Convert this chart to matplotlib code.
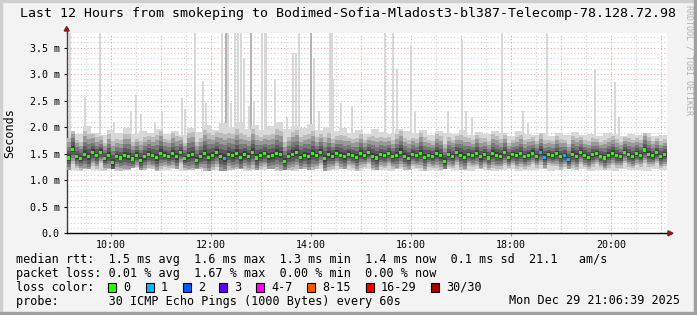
import numpy as np
import matplotlib
matplotlib.use('Agg')
import matplotlib.pyplot as plt
from matplotlib.patches import Rectangle, Polygon

plt.rcParams['font.family'] = 'DejaVu Sans Mono'

# ==============================
# data
# ==============================
start_clock = 9 * 60 + 6.65          # left edge of the graph, minutes after midnight (09:06:39)
span_min = 720                        # last 12 hours
step_min = 4.8                        # one median sample every 4.8 min

# median rtt, ms
median_ms = [
    1.42, 1.58, 1.45, 1.41, 1.49, 1.44, 1.52, 1.46, 1.53, 1.41,
    1.47, 1.33, 1.44, 1.42, 1.46, 1.45, 1.40, 1.47, 1.38, 1.44,
    1.49, 1.46, 1.43, 1.51, 1.47, 1.45, 1.50, 1.44, 1.52, 1.41,
    1.46, 1.48, 1.38, 1.45, 1.50, 1.43, 1.47, 1.52, 1.44, 1.41,
    1.49, 1.46, 1.51, 1.43, 1.48, 1.45, 1.53, 1.42, 1.47, 1.50,
    1.44, 1.46, 1.51, 1.48, 1.35, 1.45, 1.49, 1.52, 1.43, 1.47,
    1.44, 1.50, 1.46, 1.53, 1.41, 1.48, 1.45, 1.51, 1.47, 1.44,
    1.49, 1.46, 1.43, 1.50, 1.47, 1.52, 1.45, 1.42, 1.48, 1.46,
    1.50, 1.44, 1.47, 1.53, 1.45, 1.41, 1.49, 1.46, 1.51, 1.43,
    1.47, 1.44, 1.50, 1.46, 1.36, 1.48, 1.45, 1.52, 1.47, 1.43,
    1.49, 1.46, 1.51, 1.44, 1.48, 1.42, 1.50, 1.47, 1.45, 1.52,
    1.43, 1.48, 1.46, 1.50, 1.44, 1.47, 1.51, 1.45, 1.53, 1.43,
    1.48, 1.46, 1.50, 1.44, 1.47, 1.39, 1.49, 1.45, 1.52, 1.46,
    1.43, 1.48, 1.50, 1.45, 1.42, 1.47, 1.51, 1.46, 1.44, 1.53,
    1.48, 1.45, 1.50, 1.47, 1.57, 1.49, 1.46, 1.52, 1.44, 1.48,
]
# samples with 1/30 lost pings (drawn blue)
lossy_points = [39, 118, 119, 124, 125]

# smoke envelope, one value per 9.6 min
smoke_top = [
    1.92, 1.88, 2.02, 1.90, 1.86, 1.95, 1.89, 1.99, 1.87, 1.93,
    1.90, 1.96, 1.88, 1.92, 1.86, 1.98, 1.91, 2.04, 1.95, 2.08,
    2.00, 2.10, 1.97, 2.05, 1.94, 2.02, 2.09, 1.96, 2.03, 1.99,
    2.06, 1.95, 2.01, 1.93, 1.98, 1.90, 1.94, 1.88, 1.96, 1.91,
    1.87, 1.97, 1.92, 1.89, 1.95, 1.86, 1.93, 1.90, 1.88, 1.94,
    1.85, 1.91, 1.87, 1.93, 1.89, 1.84, 1.92, 1.88, 1.86, 1.90,
    1.83, 1.89, 1.86, 1.91, 1.85, 1.88, 1.84, 1.90, 1.87, 1.83,
    1.88, 1.85, 1.89, 1.84, 1.86,
]
smoke_bot = [
    1.20, 1.18, 1.22, 1.19, 1.17, 1.21, 1.18, 1.20, 1.23, 1.19,
    1.21, 1.17, 1.20, 1.22, 1.18, 1.19, 1.21, 1.18, 1.20, 1.17,
    1.19, 1.22, 1.18, 1.20, 1.19, 1.21, 1.17, 1.20, 1.18, 1.22,
    1.19, 1.21, 1.18, 1.20, 1.22, 1.19, 1.17, 1.21, 1.19, 1.20,
    1.18, 1.22, 1.19, 1.21, 1.18, 1.20, 1.17, 1.21, 1.19, 1.20,
    1.18, 1.21, 1.19, 1.17, 1.20, 1.22, 1.18, 1.20, 1.19, 1.21,
    1.18, 1.20, 1.22, 1.19, 1.21, 1.18, 1.20, 1.19, 1.17, 1.21,
    1.19, 1.20, 1.18, 1.21, 1.19,
]
smoke_spread = [
    1.10, 0.90, 1.25, 1.00, 0.85, 1.15, 0.95, 1.20, 0.90, 1.05,
    1.00, 1.20, 0.90, 1.10, 0.85, 1.25, 1.00, 1.30, 1.10, 1.30,
    1.15, 1.30, 1.05, 1.25, 1.00, 1.20, 1.30, 1.05, 1.20, 1.10,
    1.25, 1.00, 1.15, 0.95, 1.10, 0.90, 1.05, 0.85, 1.10, 0.95,
    0.90, 1.15, 1.00, 0.90, 1.10, 0.85, 1.05, 0.95, 0.90, 1.10,
    0.85, 1.00, 0.90, 1.05, 0.95, 0.80, 1.00, 0.90, 0.85, 0.95,
    0.80, 0.95, 0.85, 1.00, 0.85, 0.90, 0.80, 0.95, 0.90, 0.80,
    0.90, 0.85, 0.95, 0.80, 0.85,
]

# occasional outliers (minutes after start, top in ms)
spike_min = [4, 22, 40, 57, 77, 83, 89, 106, 114, 138, 142, 154, 164, 167,
             186, 191, 194, 197, 202, 206, 209, 213, 219, 221, 225, 234, 238,
             239, 250, 264, 272, 275, 279, 293, 297, 303, 316, 318, 320, 329,
             342, 382, 392, 396, 413, 418, 458, 474, 479, 486, 522, 548, 554,
             576, 634, 658, 663]
spike_top = [3.8, 2.57, 3.8, 2.1, 2.3, 2.6, 2.25, 2.1, 2.3, 2.55, 2.35, 3.8, 2.87, 2.45,
             3.8, 3.8, 3.8, 2.45, 3.8, 3.8, 3.8, 3.3, 2.4, 3.8, 2.5, 3.8, 3.8,
             3.8, 2.9, 2.2, 3.4, 3.4, 3.8, 3.8, 3.3, 2.3, 3.8, 3.8, 2.9, 2.45,
             2.4, 3.8, 3.8, 3.1, 3.55, 2.3, 2.3, 3.65, 2.3, 2.2, 3.8, 2.3, 2.1,
             3.8, 3.1, 2.85, 2.2]
spike_dark = [191, 221, 293]

loss_labels = ['0', '1', '2', '3', '4-7', '8-15', '16-29', '30/30']
loss_colors = ['#26ff00', '#00b8ff', '#0059ff', '#5e00ff', '#ff00f6', '#ff5500', '#ff0000', '#a10000']

title = 'Last 12 Hours from smokeping to Bodimed-Sofia-Mladost3-bl387-Telecomp-78.128.72.98'
legend_lines = [
    'median rtt:  1.5 ms avg  1.6 ms max  1.3 ms min  1.4 ms now  0.1 ms sd  21.1   am/s',
    'packet loss: 0.01 % avg  1.67 % max  0.00 % min  0.00 % now',
    'loss color:',
    'probe:       30 ICMP Echo Pings (1000 Bytes) every 60s',
]
stamp = 'Mon Dec 29 21:06:39 2025'

# ==============================
# figure / canvas
# ==============================
W, H = 697, 315
fig = plt.figure(figsize=(W / 100, H / 100), dpi=100)
fig.patch.set_facecolor('#f3f3f3')


def fx(px):
    return px / W


def fy(py):
    return 1 - py / H


L, R, T, B = 66.7, 666.7, 32.5, 233.3
ax = fig.add_axes([fx(L), fy(B), fx(R - L), (B - T) / H])
ax.set_facecolor('white')
y_top = 3.785
ax.set_xlim(start_clock, start_clock + span_min)
ax.set_ylim(0, y_top)

# grid (minor gray every 0.1 ms / 30 min, major red every 0.5 ms / 1 h)
for v in np.arange(0.1, y_top, 0.1):
    major = abs(v / 0.5 - round(v / 0.5)) < 1e-6
    ax.axhline(v, color='#e8a8a8' if major else '#d0d0d0', lw=0.8,
               ls=(0, (1, 2)), zorder=0)
for m in range(570, 1290, 30):
    major = m % 60 == 0
    ax.axvline(m, color='#e8a8a8' if major else '#d0d0d0', lw=0.8,
               ls=(0, (1, 2)), zorder=0)

# spikes
for m, top in zip(spike_min, spike_top):
    c = '#b4b4b4' if m in spike_dark else '#d8d8d8'
    ax.bar(start_clock + m, top - 1.8, bottom=1.8, width=2.2, color=c,
           linewidth=0, zorder=1)

# smoke
med = np.array(median_ms)
n = len(med)
t = start_clock + step_min * (np.arange(n) + 0.5)
top = np.repeat(smoke_top, 2)[:n]
bot = np.repeat(smoke_bot, 2)[:n]
spr = np.repeat(smoke_spread, 2)[:n]

ax.bar(t, top - bot, bottom=bot, width=step_min, color='#d9d9d9', linewidth=0, zorder=2)
layers = [('#bcbcbc', 0.25, 0.35), ('#999999', 0.20, 0.27), ('#797979', 0.15, 0.19),
          ('#5b5b5b', 0.10, 0.12), ('#3f3f3f', 0.05, 0.06)]
for c, dn, up in layers:
    hi = np.minimum(med + up * spr, top)
    lo = np.maximum(med - dn * spr, bot)
    ax.bar(t, hi - lo, bottom=lo, width=step_min, color=c, linewidth=0, zorder=3)

# median
mc = np.array([loss_colors[1] if i in lossy_points else loss_colors[0] for i in range(n)])
ax.scatter(t, med, marker='s', s=5, c=mc, linewidths=0, zorder=5)

# axes
for s in ['top', 'right']:
    ax.spines[s].set_visible(False)
ax.spines['left'].set_color('#404040')
ax.spines['bottom'].set_color('black')
ax.spines['left'].set_linewidth(1.0)
ax.spines['bottom'].set_linewidth(1.0)

yt = np.arange(0, 3.6, 0.5)
ax.set_yticks(yt)
ax.set_yticklabels(['0.0'] + [f'{v:.1f} m' for v in yt[1:]])
xt = np.arange(600, 1260, 120)
ax.set_xticks(xt)
ax.set_xticklabels([f'{m // 60:02d}:00' for m in xt])
ax.tick_params(axis='both', length=2, width=0.8, labelsize=7.2, colors='black')
ax.tick_params(axis='x', pad=3, color='#e08080')
ax.tick_params(axis='y', pad=3)

# arrows
ax.plot([0, 0], [1, 1.02], color='#404040', lw=1, transform=ax.transAxes, clip_on=False)
fig.patches.append(Polygon([[fx(L - 2.5), fy(31)], [fx(L + 2.5), fy(31)], [fx(L), fy(26.5)]],
                           closed=True, color='#8b1a1a', transform=fig.transFigure))
ax.plot([1, 1.004], [0, 0], color='black', lw=1, transform=ax.transAxes, clip_on=False)
fig.patches.append(Polygon([[fx(668), fy(230.8)], [fx(668), fy(235.8)], [fx(673), fy(233.3)]],
                           closed=True, color='#8b1a1a', transform=fig.transFigure))

# texts
fig.text(fx(20.5), fy(14), title, fontsize=9.5, va='center', ha='left')
fig.text(fx(10), fy(133), 'Seconds', fontsize=8.5, rotation=90, va='center', ha='center')
fig.text(fx(689.5), fy(60), 'RRDTOOL / TOBI OETIKER', fontsize=6, rotation=270,
         va='center', ha='center', color='#b0b0b0')

line_y = [259, 273.3, 287.3, 301]
for s, yy in zip(legend_lines, line_y):
    fig.text(fx(16), fy(yy), s, fontsize=8.5, va='center', ha='left')
fig.text(fx(680), fy(301), stamp, fontsize=8.5, va='center', ha='right')

box_x = [108, 146, 183, 219, 256, 307, 366, 431]
for bx, lab, col in zip(box_x, loss_labels, loss_colors):
    fig.patches.append(Rectangle((fx(bx), fy(291.6)), fx(8.3), 8.3 / H, facecolor=col,
                                 edgecolor='black', linewidth=0.8, transform=fig.transFigure))
    fig.text(fx(bx + 15), fy(287.3), lab, fontsize=8.5, va='center', ha='left')

# 3D frame
fig.patches.append(Rectangle((0, 0), fx(2), 1, color='#cfcfcf', transform=fig.transFigure, zorder=-1))
fig.patches.append(Rectangle((0, fy(2)), 1, 2 / H, color='#cfcfcf', transform=fig.transFigure, zorder=-1))
fig.patches.append(Rectangle((fx(W - 3), 0), fx(3), 1, color='#9f9f9f', transform=fig.transFigure, zorder=-1))
fig.patches.append(Rectangle((0, 0), 1, 3 / H, color='#9f9f9f', transform=fig.transFigure, zorder=-1))

fig.savefig('out.png', dpi=100, facecolor=fig.get_facecolor())
